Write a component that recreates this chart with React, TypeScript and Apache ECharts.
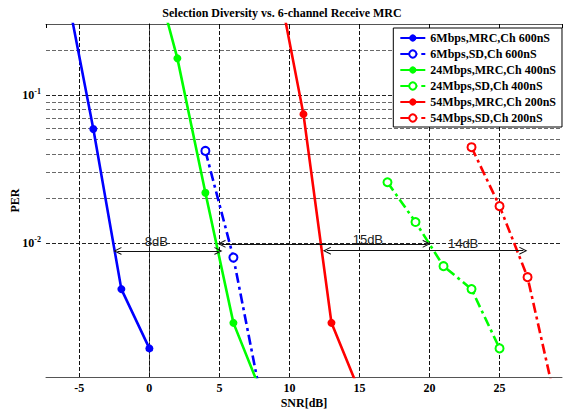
import React, { useEffect, useRef } from 'react';
import * as echarts from 'echarts';

const TITLE = 'Selection Diversity vs. 6-channel Receive MRC';
const X_NAME = 'SNR[dB]';
const Y_NAME = 'PER';
const X_MIN = -7.38;
const X_MAX = 29.46;
const Y_MIN = 0.00125;
const Y_MAX = 0.302;

const seriesNames = [
  '6Mbps,MRC,Ch 600nS',
  '6Mbps,SD,Ch 600nS',
  '24Mbps,MRC,Ch 400nS',
  '24Mbps,SD,Ch 400nS',
  '54Mbps,MRC,Ch 200nS',
  '54Mbps,SD,Ch 200nS',
];
const seriesColors = ['#0000ff', '#0000ff', '#00ff00', '#00ff00', '#ff0000', '#ff0000'];

const blueMrcSnr = [-6, -4, -2, 0];
const blueMrcPer = [0.56, 0.059, 0.0049, 0.00195];
const blueSdSnr = [4, 6, 8];
const blueSdPer = [0.042, 0.008, 0.00087];
const greenMrcSnr = [0, 2, 4, 6, 8];
const greenMrcPer = [0.9, 0.177, 0.0219, 0.0029, 0.00098];
const greenSdSnr = [17, 19, 21, 23, 25];
const greenSdPer = [0.0258, 0.0139, 0.007, 0.0049, 0.00195];
const redMrcSnr = [9, 11, 13, 15];
const redMrcPer = [0.71, 0.0744, 0.0029, 0.001];
const redSdSnr = [23, 25, 27, 29];
const redSdPer = [0.0445, 0.0178, 0.0059, 0.00085];

const seriesSnr = [blueMrcSnr, blueSdSnr, greenMrcSnr, greenSdSnr, redMrcSnr, redSdSnr];
const seriesPer = [blueMrcPer, blueSdPer, greenMrcPer, greenSdPer, redMrcPer, redSdPer];

// vertical grid lines at the x ticks
const xGridValues = [-5, 0, 5, 10, 15, 20, 25];
// horizontal log grid lines (minor 2..9 x 10^k and majors)
const hGridValues = [
  0.002, 0.003, 0.004, 0.005, 0.006, 0.007, 0.008, 0.009, 0.01,
  0.02, 0.03, 0.04, 0.05, 0.06, 0.07, 0.08, 0.09, 0.1, 0.2,
];

// annotation arrows: [x1, x2, y]
const arrowX1 = [-2.28, 5.15, 12.67];
const arrowX2 = [4.93, 19.8, 26.7];
const arrowY = [0.00887, 0.0099, 0.0089];
// annotation texts
const noteTexts = ['8dB', '15dB', '14dB'];
const noteX = [0.5, 15.6, 22.4];
const noteY = [0.0103, 0.0106, 0.01];

const SERIF = '"Liberation Serif", "Times New Roman", serif';
const SANS = '"Liberation Sans", Arial, sans-serif';
const DASHDOT = [10, 4, 3, 4];
const CHEVRON = 'path://M5,0 L10,10 L8.6,10 L5,2.8 L1.4,10 L0,10 Z';

function isPow10(v: number) {
  const l = Math.log10(v);
  return Math.abs(l - Math.round(l)) < 1e-6;
}

export default function App() {
  const ref = useRef<HTMLDivElement>(null);
  useEffect(() => {
    if (!ref.current) return;
    const chart = echarts.init(ref.current, null, { renderer: 'svg' });

    const xLabelFmt = (v: number) =>
      Math.abs(v / 5 - Math.round(v / 5)) < 1e-6 ? String(Math.round(v)) : '';

    const dataSeries = seriesNames.map((name, i) => {
      const isSD = i % 2 === 1;
      return {
        name,
        type: 'line',
        data: seriesSnr[i].map((x, j) => [x, seriesPer[i][j]]),
        symbol: isSD ? 'emptyCircle' : 'circle',
        symbolSize: 8,
        showAllSymbol: true,
        clip: true,
        z: 3,
        lineStyle: { color: seriesColors[i], width: 2.6, type: isSD ? DASHDOT : 'solid' },
        itemStyle: { color: seriesColors[i], borderColor: seriesColors[i], borderWidth: isSD ? 2 : 0 },
      };
    });

    const gridLines = [
      ...hGridValues.map((v) => ({
        yAxis: v,
        lineStyle: { color: isPow10(v) ? '#222' : '#6a6a6a', width: 1, type: 'dashed', dashOffset: 0 },
      })),
      ...xGridValues.map((v) => ({
        xAxis: v,
        lineStyle: { color: '#111', width: 1, type: 'dashed', dashOffset: 0 },
      })),
    ];

    const option: any = {
      animation: false,
      backgroundColor: '#fff',
      title: {
        text: TITLE,
        left: 'center',
        top: 2,
        textStyle: { fontFamily: SERIF, fontWeight: 'bold', fontSize: 12, color: '#000' },
      },
      grid: { left: 46, right: 2, top: 24, bottom: 35, containLabel: false, outerBoundsMode: 'none' },
      legend: {
        orient: 'vertical',
        right: 2,
        top: 28,
        z: 20,
        backgroundColor: '#fff',
        borderColor: '#000',
        borderWidth: 1,
        borderRadius: 0,
        padding: [3, 6, 2, 6],
        itemWidth: 25,
        itemHeight: 9,
        itemGap: 2,
        textStyle: { fontFamily: SERIF, fontWeight: 'bold', fontSize: 12, color: '#000', lineHeight: 14 },
        data: seriesNames,
      },
      xAxis: [
        {
          type: 'value',
          min: X_MIN,
          max: X_MAX,
          splitNumber: 7,
          name: X_NAME,
          nameLocation: 'middle',
          nameGap: 20,
          nameMoveOverlap: false,
          nameTextStyle: { fontFamily: SERIF, fontWeight: 'bold', fontSize: 12, color: '#000' },
          axisLine: { lineStyle: { color: '#555', width: 1 } },
          axisTick: { inside: true, length: 4, lineStyle: { color: '#000' } },
          axisLabel: {
            formatter: xLabelFmt,
            fontFamily: SERIF,
            fontWeight: 'bold',
            fontSize: 12,
            color: '#000',
            margin: 5,
            showMinLabel: false,
            showMaxLabel: false,
          },
          splitLine: { show: false },
        },
        {
          type: 'value',
          position: 'top',
          min: X_MIN,
          max: X_MAX,
          splitNumber: 7,
          axisLine: { lineStyle: { color: '#555', width: 1 } },
          axisTick: { inside: true, length: 4, lineStyle: { color: '#000' } },
          axisLabel: { show: false },
          splitLine: { show: false },
        },
      ],
      yAxis: [
        {
          type: 'log',
          logBase: 10,
          min: Y_MIN,
          max: Y_MAX,
          name: Y_NAME,
          nameLocation: 'middle',
          nameGap: 25,
          nameMoveOverlap: false,
          nameTextStyle: { fontFamily: SERIF, fontWeight: 'bold', fontSize: 12, color: '#000' },
          axisLine: { show: true, lineStyle: { color: '#555', width: 1 } },
          axisTick: { show: false },
          axisLabel: {
            margin: 5,
            formatter: (v: number) => (isPow10(v) ? `{b|10}{s|${Math.round(Math.log10(v))}}` : ''),
            rich: {
              b: { fontFamily: SERIF, fontWeight: 'bold', fontSize: 12, color: '#000' },
              s: { fontFamily: SERIF, fontWeight: 'bold', fontSize: 8, color: '#000', padding: [0, 0, 8, 0] },
            },
          },
          splitLine: { show: false },
        },
        {
          type: 'log',
          logBase: 10,
          position: 'right',
          min: Y_MIN,
          max: Y_MAX,
          axisLine: { show: true, lineStyle: { color: '#555', width: 1 } },
          axisTick: { show: false },
          axisLabel: { show: false },
          splitLine: { show: false },
        },
      ],
      series: [
        {
          name: '__grid',
          type: 'line',
          data: [],
          z: 1,
          silent: true,
          markLine: {
            silent: true,
            z: 1,
            symbol: 'none',
            label: { show: false },
            lineStyle: { color: '#666', width: 1, type: 'dashed' },
            data: gridLines,
          },
        },
        ...dataSeries,
        {
          name: '__notes',
          type: 'line',
          data: [],
          z: 4,
          silent: true,
          markLine: {
            silent: true,
            z: 4,
            symbol: [CHEVRON, CHEVRON],
            symbolSize: [8, 8],
            label: { show: false },
            lineStyle: { color: '#111', width: 1.2, type: 'solid' },
            data: arrowX1.map((x1, i) => [
              { coord: [x1, arrowY[i]] },
              { coord: [arrowX2[i], arrowY[i]] },
            ]),
          },
          markPoint: {
            silent: true,
            z: 4,
            symbol: 'circle',
            symbolSize: 0,
            label: {
              show: true,
              position: 'inside',
              formatter: (p: any) => p.name,
              fontFamily: SANS,
              fontSize: 13,
              color: '#222',
            },
            data: noteTexts.map((t, i) => ({ name: t, coord: [noteX[i], noteY[i]] })),
          },
        },
      ],
    };
    chart.setOption(option);
    return () => chart.dispose();
  }, []);
  return (
    <div
      ref={ref}
      style={{ position: 'fixed', left: 0, top: 0, width: 564, height: 412 }}
    />
  );
}
